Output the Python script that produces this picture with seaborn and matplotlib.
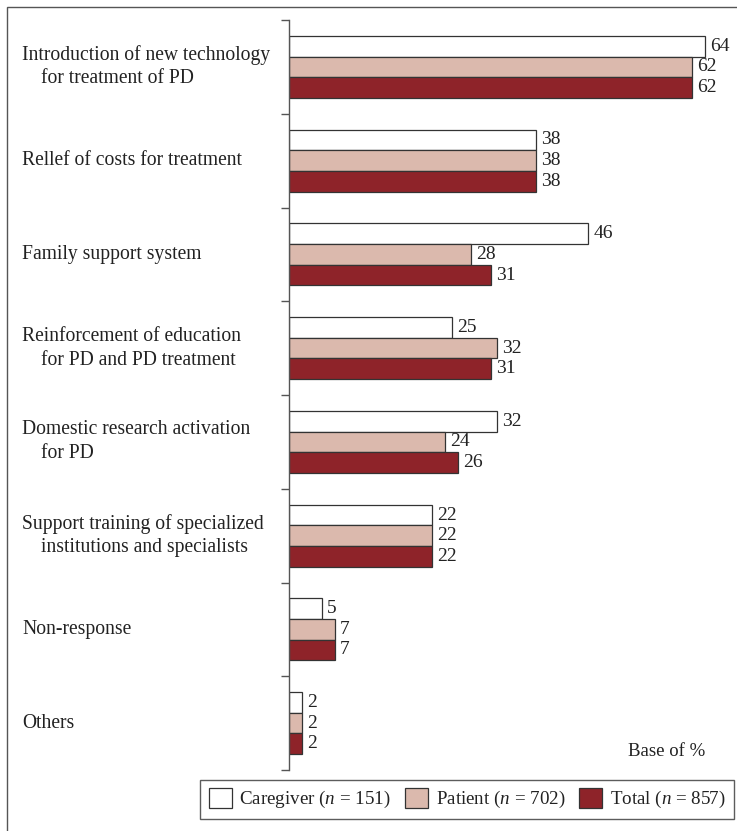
import matplotlib
matplotlib.use("Agg")
import matplotlib.pyplot as plt
import seaborn as sns
import pandas as pd
from matplotlib.patches import Rectangle

categories = [
    "Introduction of new technology\nfor treatment of PD",
    "Rellef of costs for treatment",
    "Family support system",
    "Reinforcement of education\nfor PD and PD treatment",
    "Domestic research activation\nfor PD",
    "Support training of specialized\ninstitutions and specialists",
    "Non-response",
    "Others",
]
series_names = ["Caregiver ($n$ = 151)", "Patient ($n$ = 702)", "Total ($n$ = 857)"]
caregiver = [64, 38, 46, 25, 32, 22, 5, 2]
patient = [62, 38, 28, 32, 24, 22, 7, 2]
total = [62, 38, 31, 31, 26, 22, 7, 2]
colors = ["#FFFFFF", "#DBB9AD", "#8E2329"]

rows = []
for name, vals in zip(series_names, [caregiver, patient, total]):
    for c, v in zip(categories, vals):
        rows.append({"category": c, "group": name, "value": v})
df = pd.DataFrame(rows)

sns.set_theme(style="white")
plt.rcParams["font.family"] = ["Liberation Serif", "DejaVu Serif"]
plt.rcParams["mathtext.fontset"] = "custom"
plt.rcParams["mathtext.rm"] = "Liberation Serif"
plt.rcParams["mathtext.it"] = "Liberation Serif:italic"

W, H = 737, 831
fig = plt.figure(figsize=(W / 100, H / 100), dpi=100)
ax_left, ax_top, ax_bottom = 289, 20, 770
xmax = 68
ax_right = ax_left + xmax * 6.5
ax = fig.add_axes([ax_left / W, 1 - ax_bottom / H, (ax_right - ax_left) / W, (ax_bottom - ax_top) / H])

sns.barplot(data=df, y="category", x="value", hue="group", order=categories,
            hue_order=series_names, palette=colors, orient="h", width=0.66,
            saturation=1, edgecolor="#333333", linewidth=0.9, ax=ax)

for cont in ax.containers:
    ax.bar_label(cont, padding=4, fontsize=14, color="#222222")

ax.set_xlim(0, xmax)
ax.set_ylim(len(categories) - 0.5, -0.5)
ax.set_xlabel("")
ax.set_ylabel("")
ax.set_xticks([])
bounds = [i - 0.5 for i in range(len(categories) + 1)]
ax.set_yticks(bounds)
ax.set_yticklabels([""] * len(bounds))
ax.tick_params(axis="y", direction="out", length=6, width=1, color="#555555", left=True)
for s in ["top", "right", "bottom"]:
    ax.spines[s].set_visible(False)
ax.spines["left"].set_color("#555555")
ax.spines["left"].set_linewidth(1)

# category labels
for i, c in enumerate(categories):
    lines = c.split("\n")
    n = len(lines)
    for j, line in enumerate(lines):
        off = (j - (n - 1) / 2) * 24
        disp = ax.transData.transform((0, i))
        ypix = disp[1] - off
        xpix = 22 if j == 0 else 41
        fig.text(xpix / W, ypix / H, line, ha="left", va="center", fontsize=14.1, color="#222222")

fig.text(705 / W, 1 - 751 / H, "Base of %", ha="right", va="center", fontsize=13.5, color="#222222")

sns.move_legend(ax, loc="lower right", bbox_to_anchor=(734 / W, 12 / H),
                bbox_transform=fig.transFigure, ncol=3, title=None, frameon=True,
                fontsize=13.7, handlelength=1.2, handleheight=1.2, handletextpad=0.4,
                columnspacing=0.75, borderpad=0.45, fancybox=False, borderaxespad=0)
leg = ax.get_legend()
leg.get_frame().set_edgecolor("#333333")
leg.get_frame().set_linewidth(1)
for t in leg.get_texts():
    t.set_color("#222222")

fig.add_artist(Rectangle((7 / W, -0.1), 2, 1 - 7 / H + 0.1, transform=fig.transFigure,
                         fill=False, edgecolor="#555555", linewidth=1))

fig.savefig("out.png", dpi=100)
